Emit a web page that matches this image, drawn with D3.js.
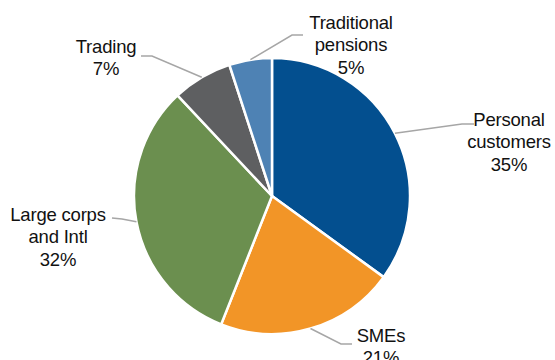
<!DOCTYPE html>
<html>
<head>
<meta charset="utf-8">
<script src="https://cdn.jsdelivr.net/npm/d3@7"></script>
<style>
  body { margin: 0; background: #fff; }
  svg { display: block; }
</style>
</head>
<body>
<svg id="chart" width="555" height="360"></svg>
<script>
// --- data ---
const categories = ["Personal customers", "SMEs", "Large corps and Intl", "Trading", "Traditional pensions"];
const shares = [35, 21, 32, 7, 5];
const labelLines = [
  ["Personal", "customers", "35%"],
  ["SMEs", "21%"],
  ["Large corps", "and Intl", "32%"],
  ["Trading", "7%"],
  ["Traditional", "pensions", "5%"]
];
const colors = ["#034f8f", "#f29527", "#6b8f4f", "#5e5f61", "#4e82b4"];

// --- layout (label anchors + leader elbows) ---
const labelPos = [
  { x: 509, y: 126, elbow: [462, 124], end: [474, 124] },
  { x: 381, y: 342, elbow: [341, 344], end: [352, 344] },
  { x: 58,  y: 221, elbow: [122, 219], end: [112, 218] },
  { x: 106, y: 53,  elbow: [152, 56],  end: [141, 56] },
  { x: 351, y: 29,  elbow: [292, 35],  end: [303, 35] }
];

const svg = d3.select("#chart");
const cx = 272, cy = 196, r = 138;

const data = categories.map((c, i) => ({ name: c, value: shares[i], i: i }));

const pie = d3.pie().sort(null).value(d => d.value);
const arcs = pie(data);

const arc = d3.arc().innerRadius(0).outerRadius(r);
const edge = d3.arc().innerRadius(r).outerRadius(r);

const g = svg.append("g").attr("transform", `translate(${cx},${cy})`);

g.selectAll("path.slice")
  .data(arcs)
  .enter().append("path")
    .attr("class", "slice")
    .attr("d", arc)
    .attr("fill", d => colors[d.data.i])
    .attr("stroke", "#fff")
    .attr("stroke-width", 2.5)
    .attr("stroke-linejoin", "round");

// leader lines
svg.selectAll("polyline.leader")
  .data(arcs)
  .enter().append("polyline")
    .attr("class", "leader")
    .attr("fill", "none")
    .attr("stroke", "#a6a6a6")
    .attr("stroke-width", 1.5)
    .attr("points", d => {
      const p = edge.centroid(d);
      const L = labelPos[d.data.i];
      return [[p[0] + cx, p[1] + cy], L.elbow, L.end].map(q => q.join(",")).join(" ");
    });

// labels
const labels = svg.selectAll("text.lbl")
  .data(arcs)
  .enter().append("text")
    .attr("class", "lbl")
    .attr("text-anchor", "middle")
    .style("font-family", "'Liberation Sans', Arial, sans-serif")
    .style("font-size", "18.5px")
    .style("letter-spacing", "-0.2px")
    .attr("fill", "#111");

labels.each(function(d) {
  const t = d3.select(this);
  const L = labelPos[d.data.i];
  labelLines[d.data.i].forEach((line, k) => {
    t.append("tspan")
      .attr("x", L.x)
      .attr("y", L.y + k * 22.3)
      .text(line);
  });
});
</script>
</body>
</html>
